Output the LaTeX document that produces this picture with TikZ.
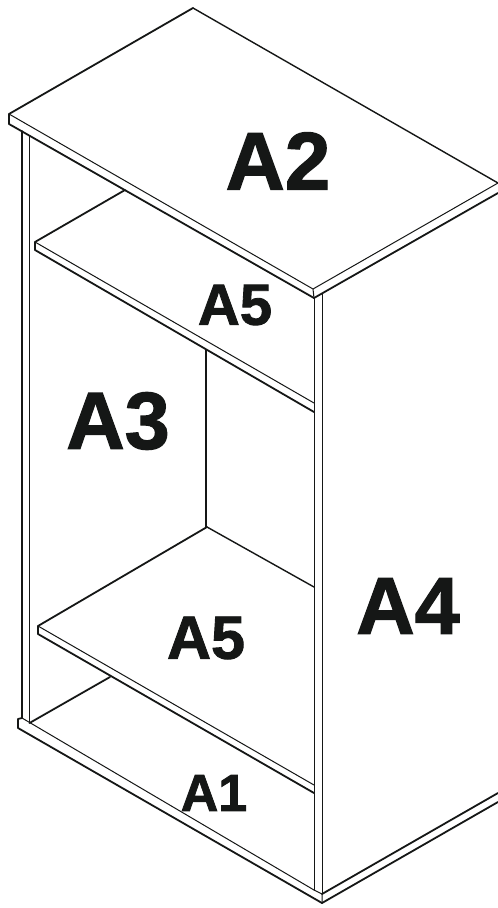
\documentclass[tikz,border=0pt]{standalone}
\usepackage{fontspec}
\setmainfont[BoldFeatures={FakeBold=1.5}]{Liberation Sans}
\definecolor{ink}{HTML}{151716}
\tikzset{
  thickl/.style={line width=1.8pt,draw=ink,line cap=round,line join=round},
  midl/.style={line width=1.4pt,draw=ink,line cap=round,line join=round},
  thinl/.style={line width=1pt,draw=ink,line cap=round,line join=round},
  lab/.style={text=ink,inner sep=0pt,anchor=center}
}
\begin{document}
\begin{tikzpicture}[x=1pt,y=-1pt]
\useasboundingbox (0,0) rectangle (498,908);
\clip (0,0) rectangle (498,908);
\fill[white] (0,0) rectangle (498,908);
% named points
\coordinate (topA) at (193,8);
\coordinate (topL) at (9,114);
\coordinate (topLb) at (9,124);
\coordinate (topF) at (313,289);
\coordinate (topFb) at (314,298);
\coordinate (topR) at (498,183);
\coordinate (topRb) at (498,193);
% top
\draw[midl] (topR) -- (topA);
\draw[thickl] (topA) -- (topL) -- (topLb) -- (topFb) -- (topRb);
\draw[thinl] (topL) -- (topF) -- (topR);
\draw[thinl] (topF) -- (topFb);
\draw[thinl] (topR) -- (topRb);
% left post
\draw[thickl] (22,131) -- (22,718);
\draw[thinl] (29.5,136) -- (29.5,723);
% right post
\draw[thickl] (314.5,298) -- (314.5,890);
\draw[thinl] (322.5,294) -- (322.5,894);
% back panel
\draw[midl] (206,350) -- (206,527);
\draw[midl] (207,527) -- (314,587);
% upper shelf
\draw[thickl] (125,190) -- (35,242) -- (35,250) -- (314,412);
\draw[thinl] (35,242) -- (314,403);
% lower shelf
\draw[thickl] (207,527) -- (38,626) -- (38,634) -- (314,793);
\draw[thinl] (38,626) -- (314,785);
% bottom
\draw[thickl] (110,677) -- (29.5,723);
\draw[thickl] (22,718) -- (18,719) -- (18,728) -- (322,903) -- (498,802);
\draw[thickl] (322,894) -- (498,793);
\draw[thinl] (22,718) -- (314,890);
\draw[thinl] (314,890) -- (322,894) -- (322,903);
% labels
\node[lab,font=\bfseries\fontsize{82}{82}\selectfont] (a2) at (278,161) {A2};
\node[lab,font=\bfseries\fontsize{58}{58}\selectfont] (a5t) at (235,305) {A5};
\node[lab,font=\bfseries\fontsize{81}{81}\selectfont] (a3) at (118,421) {A3};
\node[lab,font=\bfseries\fontsize{81}{81}\selectfont] (a4) at (408,606) {A4};
\node[lab,font=\bfseries\fontsize{61}{61}\selectfont] (a5b) at (206,638) {A5};
\node[lab,font=\bfseries\fontsize{52}{52}\selectfont] (a1) at (214,793) {A1};
\end{tikzpicture}
\end{document}
